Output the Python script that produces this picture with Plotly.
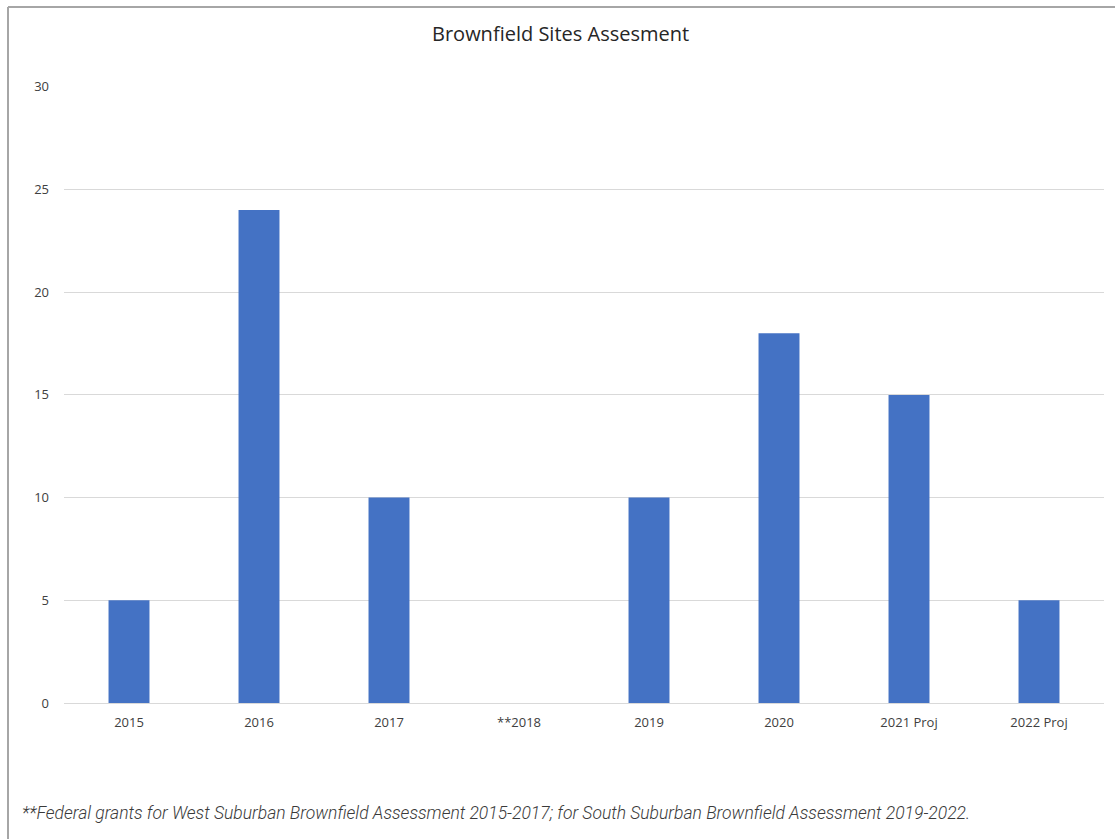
import plotly.graph_objects as go

# Brownfield site assessments per year
years = ["2015", "2016", "2017", "**2018", "2019", "2020", "2021 Proj", "2022 Proj"]
sites = [5, 24, 10, 0, 10, 18, 15, 5]
y_ticks = [0, 5, 10, 15, 20, 25, 30]

W, H = 1115, 839
L, R, T, B = 64, 11, 86, 136
plot_w = W - L - R
plot_h = H - T - B


def px_x(px):
    return (px - L) / plot_w


def px_y(py):
    return (H - B - py) / plot_h


fig = go.Figure(
    go.Bar(
        x=years,
        y=sites,
        marker=dict(color="#4472C4", line=dict(width=0)),
        hoverinfo="x+y",
    )
)

fig.update_layout(
    width=W,
    height=H,
    margin=dict(l=L, r=R, t=T, b=B),
    paper_bgcolor="white",
    plot_bgcolor="white",
    bargap=0.685,
    showlegend=False,
    font=dict(family="Open Sans, Liberation Sans, sans-serif", color="#595959", size=12),
)

fig.update_xaxes(
    type="category",
    showgrid=False,
    showline=False,
    ticks="",
    ticklabelstandoff=10,
    tickfont=dict(size=13, color="#404040"),
)
fig.update_yaxes(
    range=[0, 30.04],
    tickvals=y_ticks,
    showgrid=True,
    gridcolor="#d9d9d9",
    gridwidth=1,
    zeroline=True,
    zerolinecolor="#d9d9d9",
    zerolinewidth=1,
    showline=False,
    ticks="",
    ticklabelstandoff=14,
    tickfont=dict(size=13, color="#404040"),
)

fig.add_annotation(
    text="Brownfield Sites Assesment",
    xref="paper", yref="paper",
    x=px_x(560), y=px_y(34),
    xanchor="center", yanchor="middle",
    showarrow=False,
    font=dict(size=20, color="#262626", family="Open Sans, sans-serif"),
)

fig.add_annotation(
    text="<i>**Federal grants for West Suburban Brownfield Assessment 2015-2017; for South Suburban Brownfield Assessment 2019-2022.</i>",
    xref="paper", yref="paper",
    x=px_x(20), y=px_y(813),
    xanchor="left", yanchor="middle",
    showarrow=False,
    font=dict(size=17.5, color="#3a3a3a", family="Roboto, sans-serif", weight=300),
)

# chart frame (top and left edges)
fig.add_shape(
    type="line", xref="paper", yref="paper",
    x0=px_x(8), x1=px_x(W + 5), y0=px_y(7), y1=px_y(7),
    line=dict(color="#a6a6a6", width=2),
)
fig.add_shape(
    type="line", xref="paper", yref="paper",
    x0=px_x(8), x1=px_x(8), y0=px_y(7), y1=px_y(H + 5),
    line=dict(color="#a6a6a6", width=2),
)

fig.write_html("out.html")
